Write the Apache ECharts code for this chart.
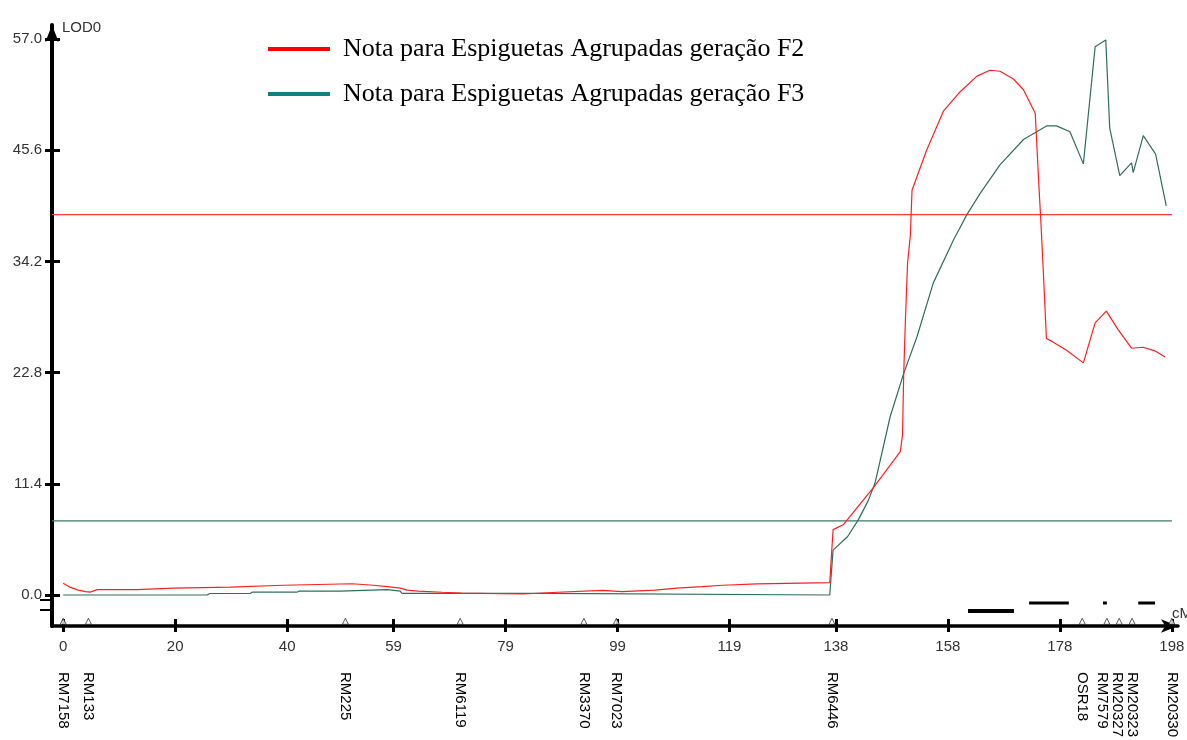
<!DOCTYPE html>
<html>
<head>
<meta charset="utf-8">
<script src="https://cdn.jsdelivr.net/npm/echarts@6/dist/echarts.min.js"></script>
<style>
  html, body { margin: 0; padding: 0; background: #fff; overflow: hidden; }
  #chart { width: 1187px; height: 740px; }
</style>
</head>
<body>
<div id="chart"></div>
<script>
// ---- data -------------------------------------------------------------
const seriesNames = [
  'Nota para Espiguetas Agrupadas geração F2',
  'Nota para Espiguetas Agrupadas geração F3'
];

// LOD profile, F2 (position in cM, LOD score)
const posF2 = [0, 1.2, 2.7, 4.0, 4.8, 6.1, 13.2, 13.2, 19.6, 19.6, 29.9, 29.9, 39.3, 39.3, 51.6, 51.6,
  55.4, 55.4, 57.9, 57.9, 60.2, 60.2, 61.4, 61.4, 63.4, 63.4, 67.7, 67.7, 71.2, 71.2, 82.1, 82.1,
  88.3, 88.3, 96.3, 96.3, 99.8, 99.8, 105.7, 105.7, 109.6, 109.6, 114.1, 114.1, 117.8, 117.8,
  123.9, 123.9, 136.9, 137.5, 139.3, 144.7, 149.5, 149.9, 150.1, 150.4, 150.8, 151.3, 151.6,
  154.2, 157.2, 160.2, 163.2, 165.5, 167.3, 169.7, 171.5, 173.6, 174.3, 174.6, 175.2, 175.6,
  176.6, 179.2, 182.2, 184.3, 186.3, 188.4, 190.8, 192.9, 195.1, 196.8];
const lodF2 = [1.2, 0.8, 0.5, 0.35, 0.3, 0.55, 0.55, 0.7, 0.7, 0.8, 0.8, 1.0, 1.0, 1.15, 1.15, 1.0,
  1.0, 0.85, 0.85, 0.7, 0.7, 0.5, 0.5, 0.4, 0.4, 0.28, 0.28, 0.2, 0.2, 0.1, 0.1, 0.28,
  0.28, 0.48, 0.48, 0.34, 0.34, 0.5, 0.5, 0.7, 0.7, 0.85, 0.85, 1.0, 1.0, 1.13,
  1.13, 1.26, 1.26, 6.7, 7.2, 11.0, 14.7, 16.4, 22.4, 27.9, 34.0, 36.9, 41.5,
  45.6, 49.6, 51.6, 53.2, 53.8, 53.7, 52.9, 51.8, 49.4, 41.5, 38.4, 31.3, 26.3,
  26.0, 25.1, 23.8, 27.9, 29.1, 27.2, 25.3, 25.4, 25.0, 24.4];

// LOD profile, F3
const posF3 = [0, 25.7, 26.2, 33.4, 33.8, 41.8, 42.2, 49.5, 49.8, 57.9, 58.2, 60.2, 60.5, 86.5, 86.8,
  136.9, 137.5, 140.1, 142.0, 143.8, 145.0, 147.7, 150.1, 152.5, 155.4, 159.0, 161.4, 163.8,
  167.3, 171.5, 175.7, 177.4, 179.8, 182.2, 184.3, 186.2, 186.9, 188.7, 190.8, 191.1, 192.9,
  195.1, 197.0];
const lodF3 = [0, 0, 0.15, 0.15, 0.3, 0.3, 0.4, 0.4, 0.55, 0.55, 0.4, 0.4, 0.17, 0.17, 0,
  0, 4.6, 6.0, 7.7, 9.7, 11.5, 18.3, 22.7, 26.5, 32.0, 36.4, 39.0, 41.2,
  44.1, 46.7, 48.1, 48.1, 47.5, 44.2, 56.2, 56.9, 47.9, 43.0, 44.3, 43.3, 47.1,
  45.2, 39.9];

// significance thresholds
const thresholdF2 = 39.0;
const thresholdF3 = 7.6;

// support intervals (cM start, cM end)
const intervalsF2 = [[161.6, 169.8]];
const intervalsF3 = [[172.5, 179.6], [185.7, 186.4], [192.0, 195.0]];

// markers on the linkage group
const markerNames = ['RM7158', 'RM133', 'RM225', 'RM6119', 'RM3370', 'RM7023', 'RM6446',
  'OSR18', 'RM7579', 'RM20327', 'RM20323', 'RM20330'];
const markerPos = [0, 4.5, 50.4, 70.9, 93.0, 98.8, 137.3, 182.0, 186.4, 188.6, 190.9, 198.0];

// axis ticks
const xTickValues = [0, 20, 40, 59, 79, 99, 119, 138, 158, 178, 198];
const yTickValues = [0, 11.4, 22.8, 34.2, 45.6, 57.0];
const yTickLabels = ['0.0', '11.4', '22.8', '34.2', '45.6', '57.0'];

// ---- layout / style ---------------------------------------------------
const X_MIN = -2, X_MAX = 199.1;
const Y_MIN = -3.18, Y_MAX = 58.44;
const ROW_F3 = -0.82, ROW_F2 = -1.64;     // levels of the interval rows
const ROW_TICKS = [-0.5, -1.55];
const MARKER_LEVEL = -2.7;
const RED = '#ff1f1f', TEAL_LINE = '#2f6e5d', TEAL_LEGEND = '#118080';
const SANS = '"Liberation Sans", Arial, sans-serif';
const SERIF = '"Liberation Serif", "Times New Roman", serif';

const zip = (xs, ys) => xs.map((x, i) => [x, ys[i]]);
const segs = (list, level) => {
  const out = [];
  list.forEach(([a, b], i) => { if (i) out.push(null); out.push([a, level], [b, level]); });
  return out;
};
const labelFor = (vals, labels) => (v) => {
  let best = 0;
  vals.forEach((t, i) => { if (Math.abs(t - v) < Math.abs(vals[best] - v)) best = i; });
  return labels[best];
};
const lastTick = xTickValues[xTickValues.length - 1];

const chart = echarts.init(document.getElementById('chart'), null, { renderer: 'canvas' });

const baseX = { type: 'value', min: X_MIN, max: X_MAX, splitLine: { show: false }, position: 'bottom' };
const baseY = { type: 'value', min: Y_MIN, max: Y_MAX, splitLine: { show: false }, position: 'left' };

const option = {
  animation: false,
  backgroundColor: '#fff',
  grid: { left: 52, right: 9, top: 25, bottom: 114, containLabel: false, outerBoundsMode: 'none' },
  legend: {
    data: [
      { name: seriesNames[0], itemStyle: { color: '#ff0000' } },
      { name: seriesNames[1], itemStyle: { color: TEAL_LEGEND } }
    ],
    orient: 'vertical', left: 268, top: 36, padding: 0, itemWidth: 62, itemHeight: 4, itemGap: 19,
    icon: 'rect', selectedMode: false,
    textStyle: { fontFamily: SERIF, fontSize: 26, color: '#000', padding: [0, 0, 0, 8] }
  },
  xAxis: [
    Object.assign({}, baseX, {
      name: 'cM', nameLocation: 'end', nameGap: -6,
      nameTextStyle: { fontFamily: SANS, fontSize: 15, color: '#333', align: 'left', verticalAlign: 'bottom', padding: [0, 0, 5, 0] },
      axisLine: { onZero: false, symbol: ['none', 'arrow'], symbolSize: [10, 17], lineStyle: { color: '#000', width: 3.5 } },
      axisTick: { customValues: xTickValues, length: 6, lineStyle: { color: '#000', width: 3 } },
      axisLabel: { customValues: xTickValues, margin: 13, fontFamily: SANS, fontSize: 15, color: '#333',
        formatter: (v) => String(Math.round(v)) }
    }),
    Object.assign({}, baseX, {
      axisLine: { show: false, onZero: false },
      axisTick: { customValues: xTickValues, inside: true, length: 7, lineStyle: { color: '#000', width: 3 } },
      axisLabel: { show: false }
    })
  ],
  yAxis: [
    Object.assign({}, baseY, {
      name: 'LOD0', nameLocation: 'end', nameGap: -3,
      nameTextStyle: { fontFamily: SANS, fontSize: 15, color: '#333', align: 'left', verticalAlign: 'middle', padding: [0, 0, 0, 10] },
      axisLine: { onZero: false, symbol: ['none', 'arrow'], symbolSize: [10, 17], lineStyle: { color: '#000', width: 4 } },
      axisTick: { customValues: yTickValues, length: 7, lineStyle: { color: '#000', width: 3 } },
      axisLabel: { customValues: yTickValues, margin: 10, fontFamily: SANS, fontSize: 15, color: '#333',
        formatter: labelFor(yTickValues, yTickLabels) }
    }),
    Object.assign({}, baseY, {
      axisLine: { show: false, onZero: false },
      axisTick: { customValues: yTickValues, inside: true, length: 8, lineStyle: { color: '#000', width: 3 } },
      axisLabel: { show: false }
    }),
    Object.assign({}, baseY, {
      axisLine: { show: false, onZero: false },
      axisTick: { customValues: ROW_TICKS, length: 12, lineStyle: { color: '#000', width: 2 } },
      axisLabel: { show: false }
    })
  ],
  series: [
    {
      name: 'limiar F2', type: 'line', data: [[X_MIN, thresholdF2], [lastTick, thresholdF2]],
      showSymbol: false, silent: true, lineStyle: { color: '#ff3a3a', width: 1.2 }
    },
    {
      name: 'limiar F3', type: 'line', data: [[X_MIN, thresholdF3], [lastTick, thresholdF3]],
      showSymbol: false, silent: true, lineStyle: { color: '#3b7868', width: 1.2 }
    },
    {
      name: seriesNames[1], type: 'line', data: zip(posF3, lodF3), showSymbol: false, z: 3,
      itemStyle: { color: TEAL_LEGEND }, lineStyle: { color: TEAL_LINE, width: 1.2 }
    },
    {
      name: seriesNames[0], type: 'line', data: zip(posF2, lodF2), showSymbol: false, z: 4,
      itemStyle: { color: '#ff0000' }, lineStyle: { color: RED, width: 1.2 }
    },
    {
      name: 'intervalo F2', type: 'line', data: segs(intervalsF2, ROW_F2), showSymbol: false,
      connectNulls: false, lineStyle: { color: '#000', width: 4 }
    },
    {
      name: 'intervalo F3', type: 'line', data: segs(intervalsF3, ROW_F3), showSymbol: false,
      connectNulls: false, lineStyle: { color: '#000', width: 3 }
    },
    {
      name: 'marcadores', type: 'scatter', data: markerPos.map(p => [p, MARKER_LEVEL]),
      symbol: 'triangle', symbolSize: [6, 6], z: 5,
      itemStyle: { color: '#fff', borderColor: '#000', borderWidth: 0.8 }
    }
  ]
};

chart.setOption(option);

// marker names, written vertically below the axis; crowded names are pushed apart
const LABEL_GAP = 15;
const px = markerPos.map(p => chart.convertToPixel({ xAxisIndex: 0 }, p));
for (let i = px.length - 2; i >= 0; i--) {
  if (px[i + 1] - px[i] < LABEL_GAP && i + 1 < px.length - 1) px[i] = px[i + 1] - LABEL_GAP;
}
chart.setOption({
  graphic: markerNames.map((name, i) => ({
    type: 'text', x: px[i], y: 672, rotation: -Math.PI / 2, silent: true,
    style: { text: name, font: '15px ' + SANS, fill: '#000', textAlign: 'left', textVerticalAlign: 'middle' }
  }))
});
</script>
</body>
</html>
